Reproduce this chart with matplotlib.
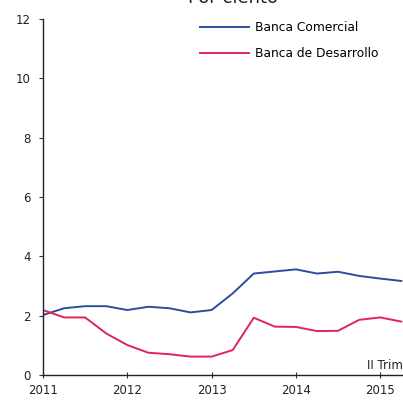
import matplotlib
matplotlib.use("Agg")
import matplotlib.pyplot as plt
import numpy as np

quarters = [2011.0, 2011.25, 2011.5, 2011.75, 2012.0, 2012.25, 2012.5, 2012.75,
            2013.0, 2013.25, 2013.5, 2013.75, 2014.0, 2014.25, 2014.5, 2014.75,
            2015.0, 2015.25]
comercial = [2.02, 2.25, 2.32, 2.32, 2.19, 2.30, 2.25, 2.11, 2.19, 2.75, 3.42,
             3.49, 3.56, 3.42, 3.48, 3.34, 3.25, 3.17]
desarrollo = [2.19, 1.94, 1.94, 1.40, 1.01, 0.75, 0.70, 0.62, 0.62, 0.84, 1.93,
              1.63, 1.62, 1.48, 1.49, 1.86, 1.94, 1.80]
year_ticks = [2011, 2012, 2013, 2014, 2015]
y_ticks = [0, 2, 4, 6, 8, 10, 12]

plt.rcParams['font.family'] = ['DejaVu Sans']

fig = plt.figure(figsize=(4.03, 4.0), dpi=100)
ax = fig.add_axes([43/403, 25/400, 1 - 43/403, 356/400])

ax.plot(quarters, comercial, color='#2b4d9e', lw=1.4, label='Banca Comercial')
ax.plot(quarters, desarrollo, color='#e0245a', lw=1.4, label='Banca de Desarrollo')

ax.set_xlim(2011, 2015.27)
ax.set_ylim(0, 12)
ax.set_yticks(y_ticks)
ax.set_xticks(year_ticks)
ax.tick_params(axis='both', labelsize=8.5, length=3, color='#333333', labelcolor='#222222')
ax.tick_params(axis='y', pad=6)
ax.tick_params(axis='x', direction='inout', length=4, pad=4.5)
for s in ['top', 'right']:
    ax.spines[s].set_visible(False)
for s in ['left', 'bottom']:
    ax.spines[s].set_color('#222222')
    ax.spines[s].set_linewidth(1.0)

leg = ax.legend(loc='upper left', bbox_to_anchor=(0.405, 1.025), frameon=False,
                fontsize=8.8, handlelength=4.0, labelspacing=1.05, handletextpad=0.5)

ax.text(1.0, 0.008, 'II Trim', transform=ax.transAxes, ha='right', va='bottom',
        fontsize=8.5, color='#222222')

fig.text(0.578, 1.006, 'Por ciento', ha='center', va='center', fontsize=13, color='#222222')

fig.savefig('out.png', dpi=100, facecolor='white')
